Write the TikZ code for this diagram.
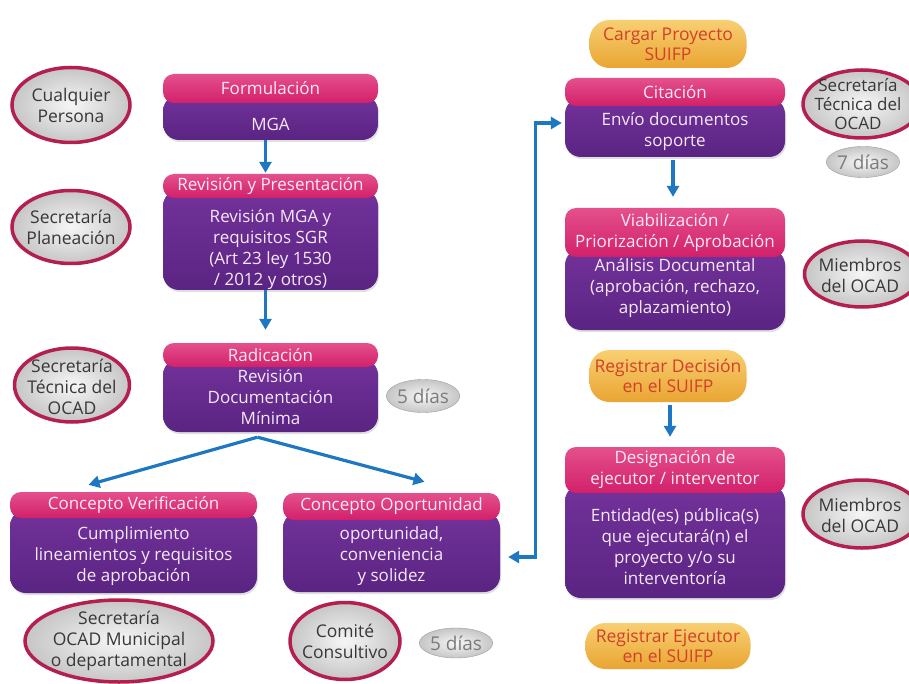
\documentclass[tikz,border=0pt]{standalone}
\usepackage{fontspec}
\setmainfont{Open Sans}
\usetikzlibrary{shapes.geometric,arrows.meta,calc,shadows}
\definecolor{pinkc}{HTML}{D2206A}
\definecolor{pinkl}{HTML}{E4508C}
\definecolor{purc}{HTML}{5A2482}
\definecolor{purl}{HTML}{72329A}
\definecolor{grayf}{HTML}{C6C6C6}
\definecolor{grayl}{HTML}{F6F6F6}
\definecolor{rimc}{HTML}{B51F4E}
\definecolor{orc}{HTML}{E9A532}
\definecolor{orl}{HTML}{F8CF72}
\definecolor{ortext}{HTML}{D3402A}
\definecolor{bluec}{HTML}{1E77C3}
\definecolor{elltext}{HTML}{383838}
\definecolor{hdrtext}{HTML}{FFEAF3}
\definecolor{bodytext}{HTML}{F6E8F8}
\definecolor{pilltext}{HTML}{7C7C7C}
\begin{document}
\begin{tikzpicture}[x=1pt,y=-1pt,
  txt/.style={font=\fontsize{17}{21}\selectfont, align=center, inner sep=0pt},
  hdr/.style={txt, rectangle, rounded corners=11pt, top color=pinkl, bottom color=pinkc, text=hdrtext},
  bdy/.style={rectangle, rounded corners=16pt, top color=purl, bottom color=purc, inner sep=0pt,
    drop shadow={opacity=0.25, shadow xshift=1pt, shadow yshift=-2pt}},
  btxt/.style={txt, text=bodytext},
  ell/.style={ellipse, draw=rimc, line width=3.5pt, inner color=grayl, outer color=grayf, inner sep=0pt},
  etxt/.style={txt, font=\fontsize{17.5}{21}\selectfont, text=elltext},
  pill/.style={ellipse, inner color=grayl, outer color=grayf, draw=grayf!80!black, line width=0.4pt, inner sep=0pt,
    txt, font=\fontsize{19}{21}\selectfont, text=pilltext},
  opill/.style={rectangle, rounded corners=20pt, top color=orl, bottom color=orc, inner sep=0pt,
    txt, font=\fontsize{17.5}{20}\selectfont, text=ortext},
  arr/.style={draw=bluec, line width=3.2pt, -{Triangle[length=11pt,width=12pt]}},
  darr/.style={draw=bluec, line width=3.2pt, {Triangle[length=11pt,width=12pt]}-{Triangle[length=11pt,width=12pt]}}
]
\useasboundingbox (0,0) rectangle (909,684);
\fill[white] (0,0) rectangle (909,684);

% ---------- left column boxes ----------
\node[bdy, minimum width=215pt, minimum height=45pt] (b1) at (270.5,117.5) {};
\node[hdr, minimum width=215pt, minimum height=29pt] (h1) at (270.5,88.5) {Formulación};
\node[btxt] (t1) at (270.5,124) {MGA};

\node[bdy, minimum width=215pt, minimum height=100pt] (b2) at (270.5,240) {};
\node[hdr, minimum width=215pt, minimum height=24pt] (h2) at (270.5,186) {Revisión y Presentación};
\node[btxt] (t2) at (270.5,250) {Revisión MGA y\\requisitos SGR\\(Art 23 ley 1530\\/ 2012 y otros)};

\node[bdy, minimum width=215pt, minimum height=73pt] (b3) at (270.5,395.5) {};
\node[hdr, minimum width=215pt, minimum height=24pt] (h3) at (270.5,355) {Radicación};
\node[btxt] (t3) at (270.5,397) {Revisión\\Documentación\\Mínima};

\node[bdy, minimum width=247pt, minimum height=83pt] (b4) at (133.5,551.5) {};
\node[hdr, minimum width=247pt, minimum height=26pt] (h4) at (133.5,505) {Concepto Verificación};
\node[btxt] (t4) at (133.5,556) {Cumplimiento\\lineamientos y requisitos\\de aprobación};

\node[bdy, minimum width=217pt, minimum height=80pt] (b5) at (391.5,552) {};
\node[hdr, minimum width=217pt, minimum height=27pt] (h5) at (391.5,506.5) {Concepto Oportunidad};
\node[btxt] (t5) at (391.5,556) {oportunidad,\\conveniencia\\y solidez};

% ---------- right column boxes ----------
\node[bdy, minimum width=220pt, minimum height=59pt] (b6) at (675,127.5) {};
\node[hdr, minimum width=220pt, minimum height=28pt] (h6) at (675,92) {Citación};
\node[btxt] (t6) at (675,132) {Envío documentos\\soporte};

\node[bdy, minimum width=220pt, minimum height=81pt] (b7) at (675,289.5) {};
\node[hdr, minimum width=220pt, minimum height=49pt] (h7) at (675,232.5) {Viabilización /\\Priorización / Aprobación};
\node[btxt] (t7) at (675,288) {Análisis Documental\\(aprobación, rechazo,\\aplazamiento)};

\node[bdy, minimum width=220pt, minimum height=113pt] (b8) at (675,541.5) {};
\node[hdr, minimum width=220pt, minimum height=46pt] (h8) at (675,470) {Designación de\\ejecutor / interventor};
\node[btxt] (t8) at (675,547) {Entidad(es) pública(s)\\que ejecutará(n) el\\proyecto y/o su\\interventoría};

% ---------- orange pills ----------
\node[opill, minimum width=157pt, minimum height=48pt] (o1) at (668,44) {Cargar Proyecto\\SUIFP};
\node[opill, minimum width=157pt, minimum height=52pt] (o2) at (668,376) {Registrar Decisión\\en el SUIFP};
\node[opill, minimum width=165pt, minimum height=46pt] (o3) at (668,646) {Registrar Ejecutor\\en el SUIFP};

% ---------- actor ellipses ----------
\node[ell, minimum width=118pt, minimum height=75pt] (e1) at (71,105) {};
\node[etxt] (e1t) at (71,105) {Cualquier\\Persona};
\node[ell, minimum width=118pt, minimum height=73pt] (e2) at (71,227) {};
\node[etxt] (e2t) at (71,227) {Secretaría\\Planeación};
\node[ell, minimum width=115pt, minimum height=74pt] (e3) at (72,385) {};
\node[etxt] (e3t) at (72,387) {Secretaría\\Técnica del\\OCAD};
\node[ell, minimum width=188pt, minimum height=82pt] (e4) at (119,641) {};
\node[etxt] (e4t) at (119,641) {Secretaría\\OCAD Municipal\\o departamental};
\node[ell, minimum width=110pt, minimum height=77pt] (e5) at (345,641) {};
\node[etxt] (e5t) at (345,641) {Comité\\Consultivo};
\node[ell, minimum width=118pt, minimum height=68pt] (e6) at (862,104) {};
\node[etxt, font=\fontsize{17}{19}\selectfont] (e6t) at (858,104) {Secretaría\\Técnica del\\OCAD};
\node[ell, minimum width=115pt, minimum height=66pt] (e7) at (862,274) {};
\node[etxt] (e7t) at (860,275) {Miembros\\del OCAD};
\node[ell, minimum width=118pt, minimum height=68pt] (e8) at (862,514) {};
\node[etxt] (e8t) at (860,515) {Miembros\\del OCAD};

% ---------- time pills ----------
\node[pill, minimum width=67pt, minimum height=33pt] (p1) at (423,396) {5 días};
\node[pill, minimum width=63pt, minimum height=31pt] (p2) at (863,162) {7 días};
\node[pill, minimum width=62pt, minimum height=30pt] (p3) at (456,643) {5 días};

% ---------- connectors ----------
\draw[arr, shorten >=1pt] ([xshift=-5pt]b1.south) -- ([xshift=-5pt]h2.north);
\draw[arr, shorten >=13pt] ([xshift=-5pt]b2.south) -- ([xshift=-5pt]h3.north);
\draw[arr] ([xshift=-13pt,yshift=-5pt]b3.south) -- ([xshift=-45pt,yshift=7pt]h4.north);
\draw[arr] ([xshift=-13pt,yshift=-5pt]b3.south) -- ([xshift=33pt,yshift=11pt]h5.north);
\draw[arr, shorten <=3pt, shorten >=11pt] ([xshift=-2pt]b6.south) -- ([xshift=-2pt]h7.north);
\draw[arr, shorten <=3pt, shorten >=10pt] ([xshift=2pt]o2.south) -- ([xshift=2pt]o2.south |- h8.north);
\draw[darr] ([xshift=8pt,yshift=-5pt]b5.east) -- ++(27,0) |- ([xshift=-3pt,yshift=4.5pt]b6.west);
\end{tikzpicture}
\end{document}
